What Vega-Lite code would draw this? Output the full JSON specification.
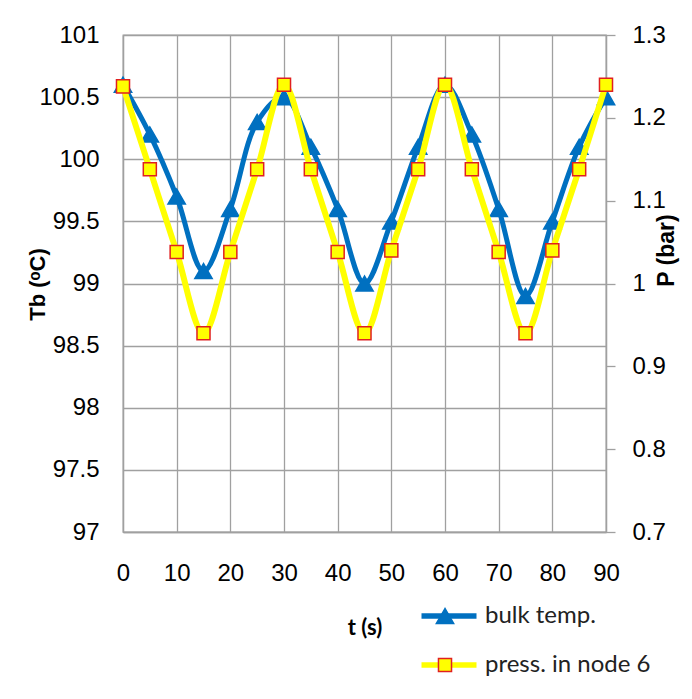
{
  "$schema": "https://vega.github.io/schema/vega-lite/v6.json",
  "width": 483,
  "height": 497,
  "autosize": {"type": "none"},
  "padding": {"left": 123, "top": 35, "right": 86, "bottom": 167},
  "background": "white",
  "config": {
    "view": {"stroke": "#A0A0A0", "strokeWidth": 1.3},
    "axis": {
      "gridColor": "#A0A0A0", "gridWidth": 1.3, "gridOpacity": 1,
      "domainColor": "#A0A0A0", "domainWidth": 1.3,
      "tickColor": "#A0A0A0", "tickWidth": 1.3,
      "labelFont": "Liberation Sans", "labelFontSize": 24, "labelColor": "#000000",
      "titleColor": "#000000", "labelFlush": false, "labelOverlap": false
    },
    "legend": {"padding": 0, "offset": 0, "labelLimit": 400}
  },
  "datasets": {
    "temp": [
      {"t": 0, "T": 100.6, "series": "bulk temp."},
      {"t": 5, "T": 100.2, "series": "bulk temp."},
      {"t": 10, "T": 99.7, "series": "bulk temp."},
      {"t": 15, "T": 99.1, "series": "bulk temp."},
      {"t": 20, "T": 99.6, "series": "bulk temp."},
      {"t": 25, "T": 100.3, "series": "bulk temp."},
      {"t": 30, "T": 100.5, "series": "bulk temp."},
      {"t": 35, "T": 100.1, "series": "bulk temp."},
      {"t": 40, "T": 99.6, "series": "bulk temp."},
      {"t": 45, "T": 99.0, "series": "bulk temp."},
      {"t": 50, "T": 99.5, "series": "bulk temp."},
      {"t": 55, "T": 100.1, "series": "bulk temp."},
      {"t": 60, "T": 100.6, "series": "bulk temp."},
      {"t": 65, "T": 100.2, "series": "bulk temp."},
      {"t": 70, "T": 99.6, "series": "bulk temp."},
      {"t": 75, "T": 98.9, "series": "bulk temp."},
      {"t": 80, "T": 99.5, "series": "bulk temp."},
      {"t": 85, "T": 100.1, "series": "bulk temp."},
      {"t": 90, "T": 100.5, "series": "bulk temp."}
    ],
    "press": [
      {"t": 0, "P": 1.238, "series": "press. in node 6"},
      {"t": 5, "P": 1.138, "series": "press. in node 6"},
      {"t": 10, "P": 1.038, "series": "press. in node 6"},
      {"t": 15, "P": 0.94, "series": "press. in node 6"},
      {"t": 20, "P": 1.038, "series": "press. in node 6"},
      {"t": 25, "P": 1.138, "series": "press. in node 6"},
      {"t": 30, "P": 1.24, "series": "press. in node 6"},
      {"t": 35, "P": 1.138, "series": "press. in node 6"},
      {"t": 40, "P": 1.038, "series": "press. in node 6"},
      {"t": 45, "P": 0.94, "series": "press. in node 6"},
      {"t": 50, "P": 1.04, "series": "press. in node 6"},
      {"t": 55, "P": 1.138, "series": "press. in node 6"},
      {"t": 60, "P": 1.24, "series": "press. in node 6"},
      {"t": 65, "P": 1.138, "series": "press. in node 6"},
      {"t": 70, "P": 1.038, "series": "press. in node 6"},
      {"t": 75, "P": 0.94, "series": "press. in node 6"},
      {"t": 80, "P": 1.04, "series": "press. in node 6"},
      {"t": 85, "P": 1.138, "series": "press. in node 6"},
      {"t": 90, "P": 1.24, "series": "press. in node 6"}
    ]
  },
  "encoding": {
    "x": {
      "field": "t", "type": "quantitative",
      "scale": {"domain": [0, 90], "nice": false, "zero": false},
      "axis": {
        "values": [0, 10, 20, 30, 40, 50, 60, 70, 80, 90],
        "grid": true, "ticks": false, "labelPadding": 29, "format": "d",
        "title": "t (s)", "titleFont": "Lato", "titleFontWeight": "bold", "titleFontSize": 22,
        "titleY": 95, "titleBaseline": "middle"
      }
    }
  },
  "layer": [
    {
      "data": {"name": "temp"},
      "encoding": {
        "y": {
          "field": "T", "type": "quantitative",
          "scale": {"domain": [97, 101], "nice": false, "zero": false},
          "axis": {
            "orient": "left",
            "values": [97, 97.5, 98, 98.5, 99, 99.5, 100, 100.5, 101],
            "grid": true, "ticks": false, "labelPadding": 24, "format": "~g",
            "title": "Tb (ᵒC)", "titleFont": "Liberation Sans", "titleFontWeight": "bold", "titleFontSize": 22,
            "titleAngle": 270, "titleX": -86, "titleY": 249, "titleBaseline": "middle"
          }
        }
      },
      "layer": [
        {
          "mark": {"type": "line", "interpolate": "catmull-rom", "strokeWidth": 5},
          "encoding": {
            "color": {
              "field": "series", "type": "nominal",
              "scale": {"range": ["#0070C0", "#FFFF00"]},
              "legend": {
                "orient": "none", "legendX": 314, "legendY": 569, "title": null,
                "symbolType": "M-5.5,0H5.5", "symbolSize": 100, "symbolStrokeWidth": 5.5,
                "labelFont": "Lato", "labelFontSize": 24, "labelColor": "#222222", "labelLimit": 400,
                "labelOffset": 24, "rowPadding": 25, "padding": 0
              }
            }
          }
        },
        {
          "mark": {"type": "point", "filled": true, "size": 300, "strokeWidth": 1.5, "opacity": 1},
          "encoding": {
            "fill": {
              "field": "series", "type": "nominal",
              "scale": {"domain": ["bulk temp.", "press. in node 6"], "range": ["#0070C0", "#FFFF00"]},
              "legend": {
                "orient": "none", "legendX": 310, "legendY": 569, "title": null,
                "symbolSize": 300, "symbolStrokeWidth": 1.5, "symbolOpacity": 1,
                "labelFont": "Lato", "labelFontSize": 24, "labelExpr": "''",
                "labelOffset": 24, "rowPadding": 25, "padding": 0,
                "encode": {"symbols": {"update": {"size": {"signal": "datum.value === 'bulk temp.' ? 300 : 170"}}}}
              }
            },
            "stroke": {
              "field": "series", "type": "nominal",
              "scale": {"domain": ["bulk temp.", "press. in node 6"], "range": ["#0070C0", "#E02020"]}
            },
            "shape": {
              "field": "series", "type": "nominal",
              "scale": {"domain": ["bulk temp.", "press. in node 6"], "range": ["triangle-up", "square"]}
            }
          }
        }
      ]
    },
    {
      "data": {"name": "press"},
      "encoding": {
        "y": {
          "field": "P", "type": "quantitative",
          "scale": {"domain": [0.7, 1.3], "nice": false, "zero": false},
          "axis": {
            "orient": "right",
            "values": [0.7, 0.8, 0.9, 1, 1.1, 1.2, 1.3],
            "grid": false, "ticks": true, "tickSize": 9, "labelPadding": 17, "format": "~g",
            "title": "P (bar)", "titleFont": "Liberation Sans", "titleFontWeight": "bold", "titleFontSize": 23,
            "titleAngle": 270, "titleX": 60, "titleY": 215, "titleBaseline": "middle"
          }
        }
      },
      "layer": [
        {
          "mark": {"type": "line", "interpolate": "catmull-rom", "strokeWidth": 6},
          "encoding": {
            "color": {"field": "series", "type": "nominal"}
          }
        },
        {
          "mark": {"type": "point", "filled": true, "size": 170, "strokeWidth": 1.5, "opacity": 1},
          "encoding": {
            "fill": {"field": "series", "type": "nominal"},
            "stroke": {"field": "series", "type": "nominal"},
            "shape": {"field": "series", "type": "nominal"}
          }
        }
      ]
    }
  ],
  "resolve": {"scale": {"y": "independent"}}
}
